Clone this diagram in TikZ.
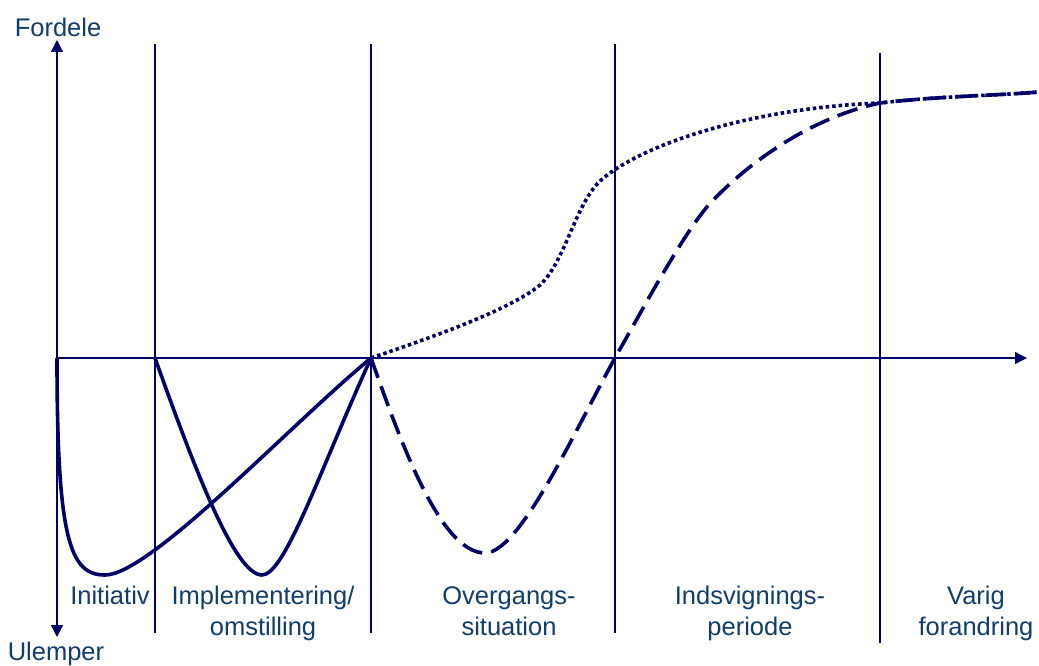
\documentclass[tikz,border=0pt]{standalone}
\usepackage{fontspec}
\setmainfont{Liberation Sans}
\usetikzlibrary{arrows.meta}
\definecolor{linecol}{HTML}{000066}
\definecolor{textcol}{HTML}{123D6A}
\begin{document}
\begin{tikzpicture}[x=1pt,y=-1pt,
  thin line/.style={draw=linecol,line width=1.4pt},
  axis line/.style={thin line,-{Triangle[length=12pt,width=12pt]}},
  solidcurve/.style={draw=linecol,line width=3.6pt,line join=round},
  dashcurve/.style={draw=linecol,line width=3.6pt,dash pattern=on 21pt off 9pt},
  dotcurve/.style={draw=linecol,line width=3.6pt,dash pattern=on 3.5pt off 3pt},
  lab/.style={text=textcol,font=\fontsize{25.5}{31}\selectfont,inner sep=0pt,anchor=base}]
\useasboundingbox (0,0) rectangle (1039,666);
% key coordinates
\coordinate (O) at (57,358);
\coordinate (ytop) at (57,40);
\coordinate (ybot) at (57,637);
\coordinate (xend) at (1027,358);
\coordinate (p1) at (155,358);
\coordinate (p2) at (371,358);
\coordinate (p3) at (615,358);
% vertical separators
\draw[thin line] (155,44) -- (155,633);
\draw[thin line] (371,44) -- (371,633);
\draw[thin line] (615,44) -- (615,633);
\draw[thin line] (880,53) -- (880,643);
% axes
\draw[axis line] (O) -- (ytop);
\draw[axis line] (O) -- (ybot);
\draw[axis line] (O) -- (xend);
% curve A (solid)
\draw[solidcurve] (O) .. controls (57,540) and (70,575) .. (105,575)
  .. controls (150,575) and (290,425) .. (p2);
% curve B (solid)
\draw[solidcurve] (p1) .. controls (195,470) and (235,575) .. (262,575)
  .. controls (285,575) and (320,470) .. (p2);
% curve C (dashed)
\draw[dashcurve] (p2) .. controls (400,440) and (440,553) .. (485,553)
  .. controls (520,553) and (575,430) .. (p3)
  .. controls (645,305) and (680,240) .. (706,208)
  .. controls (735,175) and (800,120) .. (880,103)
  .. controls (940,96) and (990,96) .. (1039,92);
% curve D (dotted)
\draw[dotcurve] (p2) .. controls (430,338) and (510,310) .. (540,285)
  .. controls (565,262) and (575,205) .. (600,181)
  .. controls (640,145) and (750,108) .. (880,103)
  .. controls (940,96) and (990,96) .. (1039,92);
% labels
\node[lab] (fordele) at (58,37) {Fordele};
\node[lab] (ulemper) at (56,660) {Ulemper};
\node[lab] (initiativ) at (110,604) {Initiativ};
\node[lab] (impl) at (263,604) {\tabcolsep=0pt\begin{tabular}[t]{c}Implementering/\\omstilling\end{tabular}};
\node[lab] (overg) at (509,604) {\tabcolsep=0pt\begin{tabular}[t]{c}Overgangs-\\situation\end{tabular}};
\node[lab] (indsv) at (750,604) {\tabcolsep=0pt\begin{tabular}[t]{c}Indsvignings-\\periode\end{tabular}};
\node[lab] (varig) at (976,604) {\tabcolsep=0pt\begin{tabular}[t]{c}Varig\\forandring\end{tabular}};
\end{tikzpicture}
\end{document}
